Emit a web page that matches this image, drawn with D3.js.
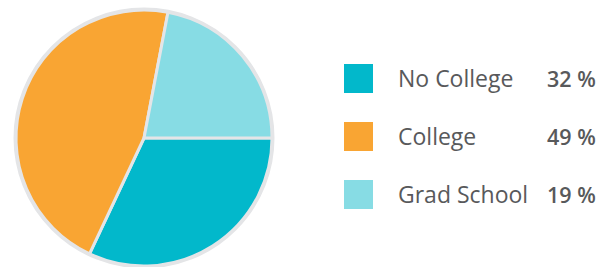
<!DOCTYPE html>
<html>
<head>
<meta charset="utf-8">
<script src="https://cdn.jsdelivr.net/npm/d3@7"></script>
<style>
  body { margin: 0; background: #fff; }
  svg text { font-family: "Open Sans", sans-serif; fill: #58595b; }
</style>
</head>
<body>
<svg id="chart"></svg>
<script>
// data
const categories = ["No College", "College", "Grad School"];
// slice sizes as drawn in the pie
const sliceValues = [32, 46, 22];
// percentages printed in the legend
const legendLabels = ["32 %", "49 %", "19 %"];
const colors = ["#02b8cb", "#f9a533", "#87dce4"];

const width = 615;
const height = 267;

const svg = d3.select("#chart")
    .attr("width", width)
    .attr("height", height);

// pie, starting at 3 o'clock and going clockwise
const cx = 144, cy = 138, radius = 128;

const pie = d3.pie()
    .sort(null)
    .startAngle(Math.PI / 2)
    .endAngle(Math.PI / 2 + 2 * Math.PI);

const arc = d3.arc().innerRadius(0).outerRadius(radius);

const g = svg.append("g").attr("transform", `translate(${cx},${cy})`);

g.append("circle")
    .attr("r", radius)
    .attr("fill", "none")
    .attr("stroke", "#e4e5e7")
    .attr("stroke-width", 5);

g.selectAll("path")
    .data(pie(sliceValues))
    .join("path")
    .attr("d", arc)
    .attr("fill", (d, i) => colors[i])
    .attr("stroke", "#e4e5e7")
    .attr("stroke-width", 3)
    .attr("stroke-linejoin", "round");

// legend
const y = d3.scaleBand()
    .domain(categories)
    .range([64, 238])
    .paddingInner(0);

const rows = svg.selectAll("g.row")
    .data(categories)
    .join("g")
    .attr("class", "row")
    .attr("transform", d => `translate(0,${y(d)})`);

rows.append("rect")
    .attr("x", 344)
    .attr("y", 0)
    .attr("width", 29)
    .attr("height", 29)
    .attr("fill", (d, i) => colors[i]);

rows.append("text")
    .attr("x", 398)
    .attr("y", 23)
    .attr("font-size", 23)
    .text(d => d);

rows.append("text")
    .attr("x", 547)
    .attr("y", 23)
    .attr("font-size", 21.5)
    .attr("font-weight", 600)
    .text((d, i) => legendLabels[i]);
</script>
</body>
</html>
